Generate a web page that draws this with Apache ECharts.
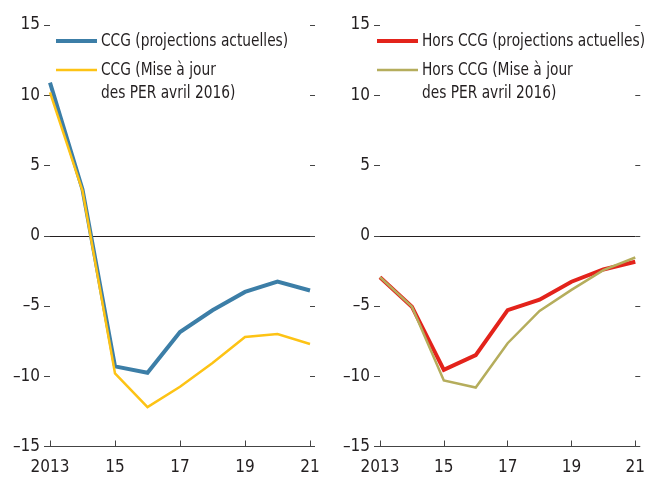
<!DOCTYPE html>
<html>
<head>
<meta charset="utf-8">
<script src="https://cdn.jsdelivr.net/npm/echarts@6/dist/echarts.min.js"></script>
<style>
  html, body { margin: 0; padding: 0; background: #fff; }
  #chart { width: 648px; height: 481px; }
</style>
</head>
<body>
<div id="chart"></div>
<script>
// données
var years = ['2013', '2014', '2015', '2016', '2017', '2018', '2019', '2020', '2021'];
var yTicks = [-15, -10, -5, 0, 5, 10, 15];

var ccgActuel = [10.9, 3.3, -9.3, -9.75, -6.85, -5.3, -4.0, -3.27, -3.9];
var ccgPer2016 = [10.2, 3.2, -9.8, -12.2, -10.75, -9.05, -7.2, -7.0, -7.7];
var horsActuel = [-2.95, -5.05, -9.55, -8.5, -5.3, -4.55, -3.27, -2.4, -1.85];
var horsPer2016 = [-2.95, -5.05, -10.3, -10.8, -7.65, -5.35, -3.85, -2.45, -1.55];

var names = ['CCG (projections actuelles)', 'CCG (Mise à jour\ndes PER avril 2016)',
             'Hors CCG (projections actuelles)', 'Hors CCG (Mise à jour\ndes PER avril 2016)'];
var colors = ['#3c7ea7', '#fdc315', '#e3231b', '#b5ad5c'];
var widths = [4, 2.5, 4, 2.5];

var FONT = '"DejaVu Sans Condensed", "DejaVu Sans", sans-serif';
var INK = '#231f20';

var myChart = echarts.init(document.getElementById('chart'));

function fmtY(v){
	if(v < 0){
		return '\u2013' + Math.abs(v);
	}
	return '' + v;
}

function fmtX(v){
	return v === '2013' ? v : v.slice(2);
}

// seule la ligne du zéro est tracée
var splitColors = yTicks.map(function(v){ return v === 0 ? INK : 'rgba(0,0,0,0)'; });

function makeX(idx){
	return {
		type: 'category', gridIndex: idx, data: years, boundaryGap: false,
		axisLine: { show: true, onZero: false, lineStyle: { color: '#444', width: 1 } },
		axisTick: { show: true, inside: true, length: 6, interval: 1, lineStyle: { color: '#444' } },
		axisLabel: { interval: 1, formatter: fmtX, color: INK, fontFamily: FONT, fontSize: 17, margin: 13 },
		splitLine: { show: false }
	};
}

function makeY(idx, side){
	var left = side === 'left';
	return {
		type: 'value', gridIndex: idx, position: side, min: -15, max: 15, interval: 5,
		axisLine: { show: false },
		axisTick: { show: true, inside: false, length: left ? 6 : 5, lineStyle: { color: '#444' } },
		axisLabel: { show: left, formatter: fmtY, color: INK, fontFamily: FONT, fontSize: 17, margin: 10 },
		splitLine: { show: left, lineStyle: { color: splitColors, width: 1 } }
	};
}

function makeSeries(i, data, grid){
	return {
		type: 'line', name: names[i], data: data,
		xAxisIndex: grid, yAxisIndex: grid * 2,
		symbol: 'none', animation: false,
		lineStyle: { color: colors[i], width: widths[i], join: 'miter' },
		itemStyle: { color: colors[i] }
	};
}

// légende dessinée à la main : le trait s'aligne sur la première ligne
var legendPos = [[56, 41], [56, 70], [377, 41], [377, 70]];
var graphic = [];
for(var i = 0; i < names.length; i++){
	var p = legendPos[i];
	graphic.push({
		type: 'line', shape: { x1: p[0], y1: p[1], x2: p[0] + 41, y2: p[1] },
		style: { stroke: colors[i], lineWidth: widths[i] }
	});
	graphic.push({
		type: 'text', x: p[0] + 45, y: p[1] - 11, scaleX: 0.9,
		style: { text: names[i], fill: INK, font: '17px ' + FONT, lineHeight: 23 }
	});
}

var option = {
	backgroundColor: '#fff',
	animation: false,
	grid: [
		{ left: 50, width: 260, top: 25, bottom: 34.5 },
		{ left: 380, width: 260, top: 25, bottom: 34.5 }
	],
	xAxis: [makeX(0), makeX(1)],
	yAxis: [makeY(0, 'left'), makeY(0, 'right'), makeY(1, 'left'), makeY(1, 'right')],
	series: [
		makeSeries(0, ccgActuel, 0),
		makeSeries(1, ccgPer2016, 0),
		makeSeries(2, horsActuel, 1),
		makeSeries(3, horsPer2016, 1)
	],
	graphic: graphic
};
myChart.setOption(option);
</script>
</body>
</html>
